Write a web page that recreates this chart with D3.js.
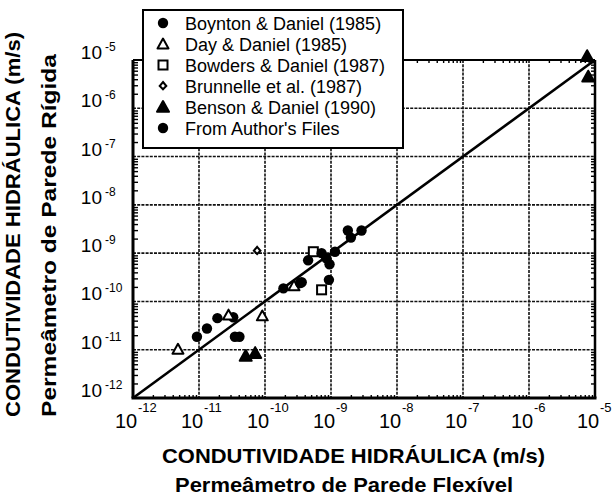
<!DOCTYPE html>
<html>
<head>
<meta charset="utf-8">
<script src="https://cdn.jsdelivr.net/npm/d3@7"></script>
<style>
  body { margin: 0; background: #fff; }
  svg { display: block; font-family: "Liberation Sans", Arial, Helvetica, sans-serif; }
  .grid line { stroke: #111; stroke-width: 1.6; stroke-dasharray: 3,1.2; }
  .minor line { stroke: #000; stroke-width: 1.4; }
  .minor path { display: none; }
</style>
</head>
<body>
<svg id="canvas" width="613" height="498"></svg>
<script>
// decades shown on both axes
const exponents = [-12, -11, -10, -9, -8, -7, -6, -5];

// [flexible wall K, rigid wall K] in m/s
const boynton = [
    [9.3e-12, 1.86e-11], [1.32e-11, 2.75e-11], [1.9e-11, 4.5e-11],
    [3.3e-11, 4.7e-11], [3.5e-11, 1.86e-11], [4.1e-11, 1.86e-11]
];
const dayDaniel = [
    [4.8e-12, 1.02e-11], [2.8e-11, 5.2e-11], [9.1e-11, 5.0e-11], [2.75e-10, 2.1e-10]
];
const bowders = [[5.4e-10, 1.07e-9], [7.2e-10, 1.74e-10]];
const brunnelle = [[7.6e-11, 1.12e-9]];
const benson = [
    [5.1e-11, 7.4e-12], [7.1e-11, 8.5e-12], [7.6e-6, 1.2e-5], [7.9e-6, 4.5e-6]
];
const authorFiles = [
    [1.9e-10, 1.86e-10], [3.6e-10, 2.5e-10], [3.4e-10, 2.4e-10], [4.5e-10, 7.1e-10],
    [7.2e-10, 1.0e-9], [8.5e-10, 7.8e-10], [9.5e-10, 5.9e-10], [1.15e-9, 1.07e-9],
    [9.3e-10, 2.8e-10], [1.8e-9, 2.95e-9], [2.0e-9, 2.1e-9], [2.9e-9, 2.95e-9]
];

const legendLabels = [
    "Boynton & Daniel (1985)",
    "Day & Daniel (1985)",
    "Bowders & Daniel (1987)",
    "Brunnelle et al. (1987)",
    "Benson & Daniel (1990)",
    "From Author's Files"
];
const legendSymbols = ["dot", "triOpen", "square", "diamond", "triFilled", "dot"];

const plotLeft = 133, plotRight = 595, plotTop = 60, plotBottom = 398;

const svg = d3.select("#canvas");
const x = d3.scaleLog().domain([1e-12, 1e-5]).range([plotLeft, plotRight]);
const y = d3.scaleLog().domain([1e-12, 1e-5]).range([plotBottom, plotTop]);

const majors = exponents.map(e => Math.pow(10, e));
const minors = x.ticks().filter(v => !majors.some(m => Math.abs(v / m - 1) < 1e-6));

/**
 * Draws one marker of the given kind, centred on (cx, cy).
 */
function drawSymbol(g, kind, cx, cy) {
    if (kind === "dot") {
        g.append("circle").attr("cx", cx).attr("cy", cy).attr("r", 5.2).attr("fill", "#000");
    } else if (kind === "triOpen" || kind === "triFilled") {
        const s = kind === "triOpen" ? 5.5 : 6;
        g.append("path")
            .attr("d", `M${cx},${cy - s}L${cx + s},${cy + s * 0.8}L${cx - s},${cy + s * 0.8}Z`)
            .attr("fill", kind === "triOpen" ? "#fff" : "#000")
            .attr("stroke", "#000").attr("stroke-width", 2).attr("stroke-linejoin", "round");
    } else if (kind === "square") {
        g.append("rect").attr("x", cx - 4.5).attr("y", cy - 4.5).attr("width", 9).attr("height", 9)
            .attr("fill", "#fff").attr("stroke", "#000").attr("stroke-width", 2);
    } else if (kind === "diamond") {
        g.append("path")
            .attr("d", `M${cx},${cy - 4}L${cx + 3.3},${cy}L${cx},${cy + 3.3}L${cx - 3.3},${cy}Z`)
            .attr("fill", "#fff").attr("stroke", "#000").attr("stroke-width", 2);
    }
}

// grid
const grid = svg.append("g").attr("class", "grid");
grid.selectAll(".gx").data(majors.slice(1, -1)).enter().append("line")
    .attr("x1", d => x(d)).attr("x2", d => x(d)).attr("y1", plotTop).attr("y2", plotBottom);
grid.selectAll(".gy").data(majors.slice(1, -1)).enter().append("line")
    .attr("x1", plotLeft).attr("x2", plotRight).attr("y1", d => y(d)).attr("y2", d => y(d));

// minor ticks on all four sides
svg.append("g").attr("class", "minor").attr("transform", `translate(${plotLeft},0)`)
    .call(d3.axisLeft(y).tickValues(minors).tickSize(-5).tickFormat(""));
svg.append("g").attr("class", "minor").attr("transform", `translate(${plotRight},0)`)
    .call(d3.axisRight(y).tickValues(minors).tickSize(-4).tickFormat(""));
svg.append("g").attr("class", "minor").attr("transform", `translate(0,${plotBottom})`)
    .call(d3.axisBottom(x).tickValues(minors).tickSize(-3).tickFormat(""));
svg.append("g").attr("class", "minor").attr("transform", `translate(0,${plotTop})`)
    .call(d3.axisTop(x).tickValues(minors).tickSize(-3).tickFormat(""));

// frame
svg.append("line").attr("x1", plotLeft).attr("x2", plotLeft).attr("y1", plotTop).attr("y2", plotBottom)
    .attr("stroke", "#000").attr("stroke-width", 3);
svg.append("line").attr("x1", plotLeft - 1.5).attr("x2", plotRight + 1.5).attr("y1", plotBottom).attr("y2", plotBottom)
    .attr("stroke", "#000").attr("stroke-width", 3);
svg.append("line").attr("x1", plotRight).attr("x2", plotRight).attr("y1", plotTop).attr("y2", plotBottom)
    .attr("stroke", "#000").attr("stroke-width", 2.5);
svg.append("line").attr("x1", plotLeft).attr("x2", plotRight).attr("y1", plotTop).attr("y2", plotTop)
    .attr("stroke", "#000").attr("stroke-width", 2);

// 1:1 line
svg.append("line")
    .attr("x1", x(1e-12)).attr("y1", y(1e-12)).attr("x2", x(1e-5)).attr("y2", y(1e-5))
    .attr("stroke", "#000").attr("stroke-width", 2.6);

// data
const marks = svg.append("g");
const series = [
    [boynton, "dot"], [dayDaniel, "triOpen"], [bowders, "square"],
    [brunnelle, "diamond"], [benson, "triFilled"], [authorFiles, "dot"]
];
series.forEach(([pts, kind]) => {
    pts.forEach(p => drawSymbol(marks, kind, x(p[0]), y(p[1])));
});

// y tick labels
const labels = svg.append("g").attr("fill", "#000");
exponents.forEach(e => {
    const py = y(Math.pow(10, e));
    labels.append("text").attr("x", 102).attr("y", py - 1).attr("text-anchor", "end")
        .attr("font-size", 19).text("10");
    labels.append("text").attr("x", 105).attr("y", py - 9).attr("font-size", 12).text("-" + Math.abs(e));
});

// x tick labels (set slightly left of their gridlines, as in the print)
exponents.forEach(e => {
    const px = x(Math.pow(10, e)) - 7;
    labels.append("text").attr("x", px).attr("y", 428).attr("text-anchor", "middle")
        .attr("font-size", 20).text("10");
    labels.append("text").attr("x", px + 12).attr("y", 412).attr("font-size", 13).text("-" + Math.abs(e));
});

// axis titles
function title(tx, ty, rot, len, text) {
    svg.append("text").attr("transform", `translate(${tx},${ty}) rotate(${rot})`)
        .attr("font-size", 21).attr("font-weight", "bold")
        .attr("textLength", len).attr("lengthAdjust", "spacingAndGlyphs")
        .text(text);
}
title(162, 463, 0, 383, "CONDUTIVIDADE HIDRÁULICA (m/s)");
title(175, 492, 0, 338, "Permeâmetro de Parede Flexível");
title(20, 417, -90, 385, "CONDUTIVIDADE HIDRÁULICA (m/s)");
title(56, 417, -90, 363, "Permeâmetro de Parede Rígida");

// legend
const legend = svg.append("g");
legend.append("rect").attr("x", 143).attr("y", 10).attr("width", 260).attr("height", 138)
    .attr("fill", "#fff").attr("stroke", "#000").attr("stroke-width", 2);
legendLabels.forEach((label, i) => {
    const cy = 23 + i * 21;
    drawSymbol(legend, legendSymbols[i], 163, cy);
    legend.append("text").attr("x", 185).attr("y", cy + 6.5).attr("font-size", 18).text(label);
});
</script>
</body>
</html>
